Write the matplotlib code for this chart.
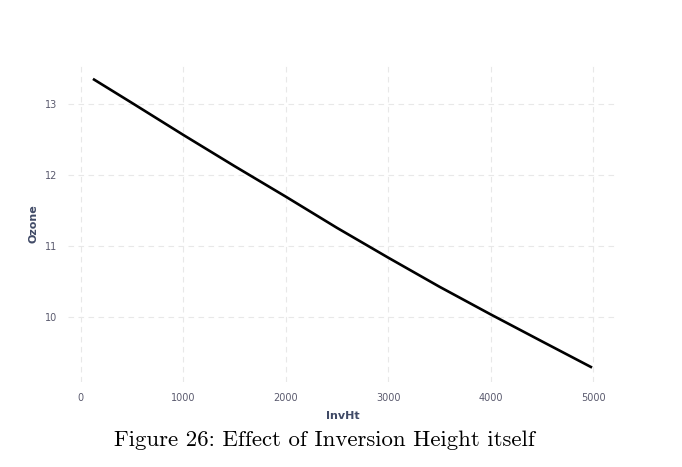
import numpy as np
import matplotlib
matplotlib.use("Agg")
import matplotlib.pyplot as plt

# Partial effect of inversion height on ozone
invht = [118, 500, 1000, 1500, 2000, 2500, 3000, 3500, 4000, 4500, 4990]
ozone = [13.35, 13.01, 12.56, 12.12, 11.69, 11.25, 10.83, 10.42, 10.03, 9.65, 9.28]

xticks = [0, 1000, 2000, 3000, 4000, 5000]
yticks = [10, 11, 12, 13]
caption = "Figure 26: Effect of Inversion Height itself"

fig = plt.figure(figsize=(6.82, 4.67), dpi=100)
ax = fig.add_axes([0.0997, 0.182, 0.805, 0.680])

ax.plot(invht, ozone, color="black", linewidth=1.9, solid_capstyle="butt")

ax.set_xticks(xticks)
ax.set_yticks(yticks)
ax.grid(True, color="#e8e8e8", linestyle=(0, (5, 4)), linewidth=0.8)
ax.set_axisbelow(True)
for s in ax.spines.values():
    s.set_visible(False)
ax.tick_params(length=0, labelsize=7, labelcolor="#5a5a6e", pad=8)

ax.set_xlabel("InvHt", fontsize=8, fontweight="bold", color="#404a66", labelpad=6)
ax.set_ylabel("Ozone", fontsize=8, fontweight="bold", color="#404a66", labelpad=4)

fig.text(0.475, 0.057, caption, ha="center", va="center",
         fontsize=16.4, family="cmr10")

fig.savefig("out.png", dpi=100)
